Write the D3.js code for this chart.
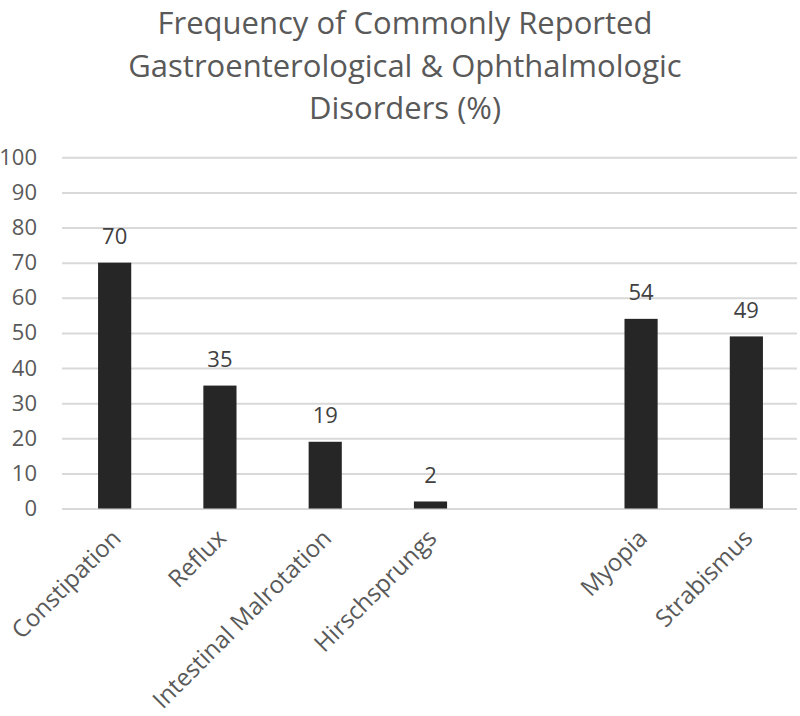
<!DOCTYPE html>
<html><head><meta charset="utf-8">
<script src="https://cdn.jsdelivr.net/npm/d3@7"></script>
<style>body{margin:0;background:#fff}svg{display:block}</style>
</head><body>
<svg id="c" width="800" height="716"></svg>
<script>
const categories = ["Constipation","Reflux","Intestinal Malrotation","Hirschsprungs","","Myopia","Strabismus"];
const values = [70,35,19,2,null,54,49];
const yTicks = [0,10,20,30,40,50,60,70,80,90,100];
const titleLines = ["Frequency of Commonly Reported","Gastroenterological & Ophthalmologic","Disorders (%)"];

const svg = d3.select("#c");
const font = "'Open Sans', Calibri, sans-serif";
const x = d3.scaleBand().domain(d3.range(categories.length)).range([62, 799]).paddingInner(0.685).paddingOuter(0.3425);
const y = d3.scaleLinear().domain([0,100]).range([508.5,157.3]);

svg.append("g").selectAll("text").data(titleLines).join("text")
  .attr("x", 405).attr("y",(d,i)=>34+i*42.5)
  .attr("text-anchor","middle")
  .attr("font-family",font).attr("font-size",31).attr("fill","#595959").text(d=>d);

const yAxis = svg.append("g").attr("transform","translate(62,0)")
  .call(d3.axisLeft(y).tickValues(yTicks).tickSize(-735).tickPadding(25));
yAxis.select(".domain").remove();
yAxis.selectAll(".tick line").attr("stroke","#d9d9d9").attr("stroke-width",2);
yAxis.selectAll(".tick text").attr("font-family",font).attr("font-size",22).attr("fill","#595959");

const data = categories.map((c,i)=>({i, c, v: values[i]})).filter(d=>d.v!=null);
svg.append("g").selectAll("rect").data(data).join("rect")
  .attr("x",d=>x(d.i)).attr("width",x.bandwidth())
  .attr("y",d=>y(d.v)).attr("height",d=>y(0)-y(d.v)).attr("fill","#262626");

svg.append("g").selectAll("text").data(data).join("text")
  .attr("x",d=>x(d.i)+x.bandwidth()/2).attr("y",d=>y(d.v)-18.5)
  .attr("text-anchor","middle").attr("font-family",font).attr("font-size",22).attr("fill","#404040")
  .text(d=>d.v);

svg.append("g").selectAll("text").data(categories.map((c,i)=>({c,i})).filter(d=>d.c)).join("text")
  .attr("transform",d=>`translate(${x(d.i)+x.bandwidth()/2+1},${533}) rotate(-45)`)
  .attr("text-anchor","end").attr("dominant-baseline","central")
  .attr("font-family",font).attr("font-size",24).attr("fill","#595959").text(d=>d.c);
</script>
</body></html>
